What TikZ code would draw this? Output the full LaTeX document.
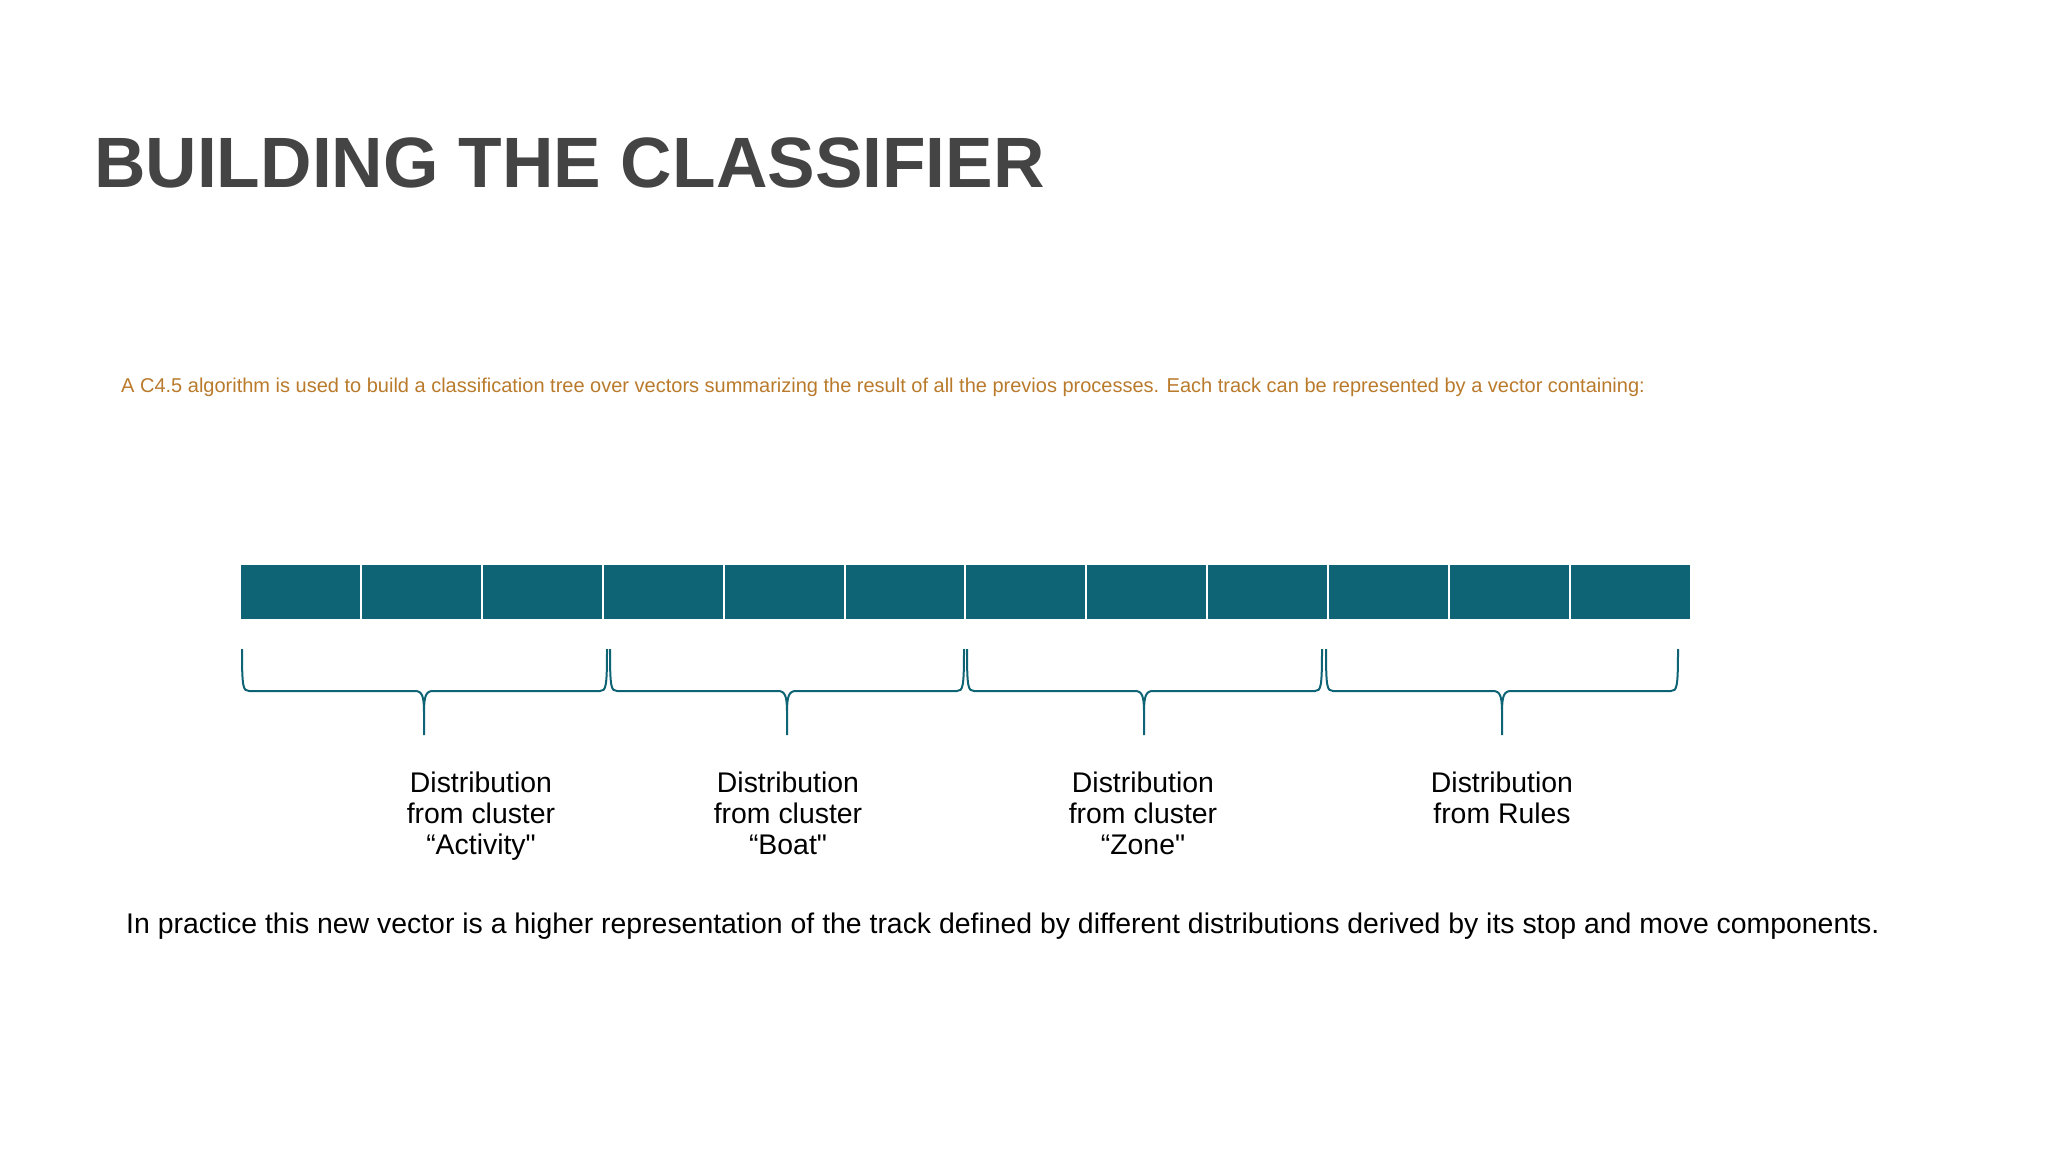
\documentclass[tikz,border=0pt]{standalone}
\usepackage{fontspec}
\setmainfont{Liberation Sans}[Ligatures=TeXOff]
\usetikzlibrary{positioning}
\definecolor{vecblue}{HTML}{0E6375}
\definecolor{titlegray}{HTML}{444444}
\definecolor{notebrown}{HTML}{B97A2B}
\tikzset{
  cell/.style={draw=white,line width=2pt,fill=vecblue,minimum width=120.9pt,
    minimum height=56pt,inner sep=0pt,outer sep=0pt},
  brace/.style={draw=vecblue,line width=2pt,line join=round},
  distlabel/.style={anchor=north,inner sep=0pt,align=center,
    font=\fontsize{28.4}{31}\selectfont}
}
\begin{document}
\begin{tikzpicture}[x=1pt,y=-1pt]
  \useasboundingbox (0,0) rectangle (2048,1152);
  \node[anchor=base west,inner sep=0pt,text=titlegray,
    font=\fontsize{71.3}{80}\selectfont\bfseries] (title) at (94,187)
    {BUILDING THE CLASSIFIER};
  \node[anchor=base west,inner sep=0pt,text=notebrown,
    font=\fontsize{20}{22}\selectfont] (intro) at (121,392)
    {A C4.5 algorithm is used to build a classification tree over vectors summarizing the result of all the previos processes. Each track can be represented by a vector containing:};
  % the vector
  \foreach \i in {1,...,12}
    \node[cell] (c\i) at ({240+(\i-0.5)*120.9},592) {};
  % braces under each group of three
  \foreach \a/\b/\m in {242/607/424, 610/964/787, 967/1322/1144, 1326/1678/1502}
    \draw[brace] (\a,649) .. controls (\a,687) and (\a+1,691) .. (\a+7,691)
      -- (\m-9,691) .. controls (\m-2,691) and (\m,696) .. (\m,712) -- (\m,735)
      (\m,712) .. controls (\m,696) and (\m+2,691) .. (\m+9,691)
      -- (\b-7,691) .. controls (\b-1,691) and (\b,687) .. (\b,649);
  \node[distlabel] (d-activity) at (481,772) {Distribution\\from cluster\\“Activity"};
  \node[distlabel] (d-boat) at (788,772) {Distribution\\from cluster\\“Boat"};
  \node[distlabel] (d-zone) at (1143,772) {Distribution\\from cluster\\“Zone"};
  \node[distlabel] (d-rules) at (1502,772) {Distribution\\from Rules};
  \node[anchor=base west,inner sep=0pt,font=\fontsize{28.4}{31}\selectfont] (summary) at (126,933)
    {In practice this new vector is a higher representation of the track defined by different distributions derived by its stop and move components.};
\end{tikzpicture}
\end{document}
